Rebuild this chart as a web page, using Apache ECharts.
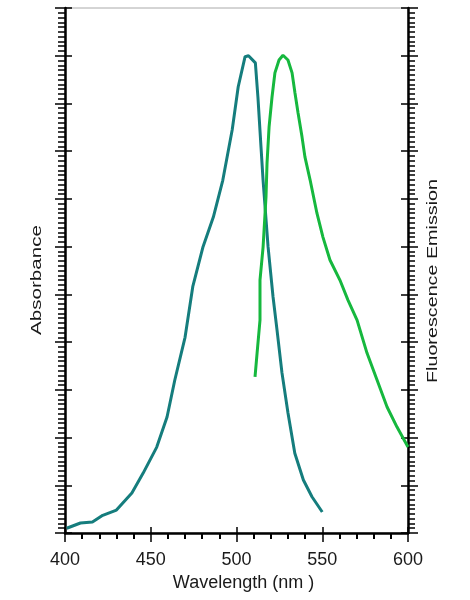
<!DOCTYPE html>
<html>
<head>
<meta charset="utf-8">
<script src="https://cdn.jsdelivr.net/npm/echarts@6/dist/echarts.min.js"></script>
<style>
html,body{margin:0;padding:0;background:#fff;}
#chart{width:470px;height:600px;}
</style>
</head>
<body>
<div id="chart"></div>
<script>
// Wavelength ticks (nm)
var xTicks = [400, 450, 500, 550, 600];
// Absorbance spectrum (normalized, peak = 100)
var absWavelength = [401, 409, 416, 422, 430, 439, 445.5, 453.5, 459.5, 464, 470, 474.5, 480.5, 486.5, 492, 497.5, 501, 505, 507, 511, 512.5, 514.3, 515.5, 518.4, 521.3, 523.6, 526.5, 530, 534, 539, 544, 550];
var absValue = [1.0, 2.1, 2.3, 3.7, 4.8, 8.4, 12.5, 18.0, 24.3, 32.0, 41.0, 51.6, 60.0, 66.2, 73.9, 84.5, 93.5, 99.8, 100, 98.5, 91.3, 80.8, 73.9, 60.0, 49.5, 42.6, 33.6, 25.2, 16.7, 11.1, 7.6, 4.4];
// Fluorescence emission spectrum (normalized, peak = 100)
var emWavelength = [510.8, 512, 513.7, 513.7, 515.5, 517.2, 517.8, 519, 520.7, 522.4, 524.8, 527.1, 530, 532.4, 534.1, 535.9, 538.2, 539.9, 542.9, 546.9, 550.4, 554.5, 560.3, 565, 570.3, 576.1, 581.9, 587.8, 593.6, 600];
var emValue = [32.7, 37.7, 44.6, 53.0, 59.9, 70.4, 77.5, 85.1, 91.3, 96.4, 99.1, 100.1, 99.1, 96.4, 92.2, 88.0, 83.0, 78.8, 74.0, 67.0, 62.0, 57.2, 53.0, 48.8, 44.6, 37.7, 32.1, 26.4, 22.2, 18.0];

var absData = absWavelength.map(function (w, i) { return [w, absValue[i]]; });
var emData = emWavelength.map(function (w, i) { return [w, emValue[i]]; });

var chart = echarts.init(document.getElementById('chart'), null, {renderer: 'canvas'});
var FONT = 'Liberation Sans, Arial, sans-serif';
var black = '#000';

function yAxisBase(pos, inside, len, minor) {
  return {
    type: 'value', position: pos, min: 0, max: 110, interval: 10,
    axisLine: {show: !inside, lineStyle: {color: black, width: 2.5}},
    axisTick: {show: true, inside: inside, length: len, lineStyle: {color: black, width: 1.5}},
    minorTick: {show: minor, splitNumber: 10, length: 7, lineStyle: {color: black, width: 1.5}},
    axisLabel: {show: false},
    splitLine: {show: false}
  };
}

var option = {
  backgroundColor: '#fff',
  animation: false,
  grid: {left: 65, right: 62, top: 8, bottom: 67, show: true, borderColor: '#aaa', borderWidth: 1, containLabel: false},
  xAxis: [
    {
      type: 'value', min: xTicks[0], max: xTicks[xTicks.length - 1], interval: 50,
      name: 'Wavelength (nm )', nameLocation: 'middle', nameGap: 32,
      nameTextStyle: {fontSize: 18, color: '#1a1a1a', fontFamily: FONT, padding: [0, 0, 0, 14]},
      axisLine: {show: true, lineStyle: {color: black, width: 2.5}},
      axisTick: {show: true, inside: false, length: 9, lineStyle: {color: black, width: 1.5}},
      minorTick: {show: true, splitNumber: 5, length: 6, lineStyle: {color: black, width: 2}},
      axisLabel: {show: true, fontSize: 18, color: '#1a1a1a', fontFamily: FONT, margin: 18},
      splitLine: {show: false}
    },
    {
      type: 'value', min: xTicks[0], max: xTicks[xTicks.length - 1], interval: 50, position: 'bottom',
      axisLine: {show: false},
      axisTick: {show: true, inside: true, length: 6, lineStyle: {color: black, width: 1.5}},
      axisLabel: {show: false}, splitLine: {show: false}
    }
  ],
  yAxis: [
    yAxisBase('left', false, 10, true),
    yAxisBase('right', false, 10, true),
    yAxisBase('left', true, 7, false),
    yAxisBase('right', true, 7, false)
  ],
  graphic: [
    {
      type: 'text', x: 37, y: 280, rotation: Math.PI / 2, scaleX: 1.47,
      style: {text: 'Absorbance', fontSize: 14, fontFamily: FONT, fill: '#1a1a1a', align: 'center', verticalAlign: 'middle'}
    },
    {
      type: 'text', x: 433, y: 281, rotation: Math.PI / 2, scaleX: 1.41,
      style: {text: 'Fluorescence Emission', fontSize: 14, fontFamily: FONT, fill: '#1a1a1a', align: 'center', verticalAlign: 'middle'}
    }
  ],
  series: [
    {
      name: 'Absorbance', type: 'line', xAxisIndex: 0, yAxisIndex: 0,
      data: absData, showSymbol: false, symbol: 'none', smooth: false,
      lineStyle: {color: '#157d7d', width: 3}, z: 3
    },
    {
      name: 'Fluorescence Emission', type: 'line', xAxisIndex: 0, yAxisIndex: 1,
      data: emData, showSymbol: false, symbol: 'none', smooth: false,
      lineStyle: {color: '#16b83e', width: 3}, z: 3
    }
  ]
};
chart.setOption(option);
</script>
</body>
</html>
